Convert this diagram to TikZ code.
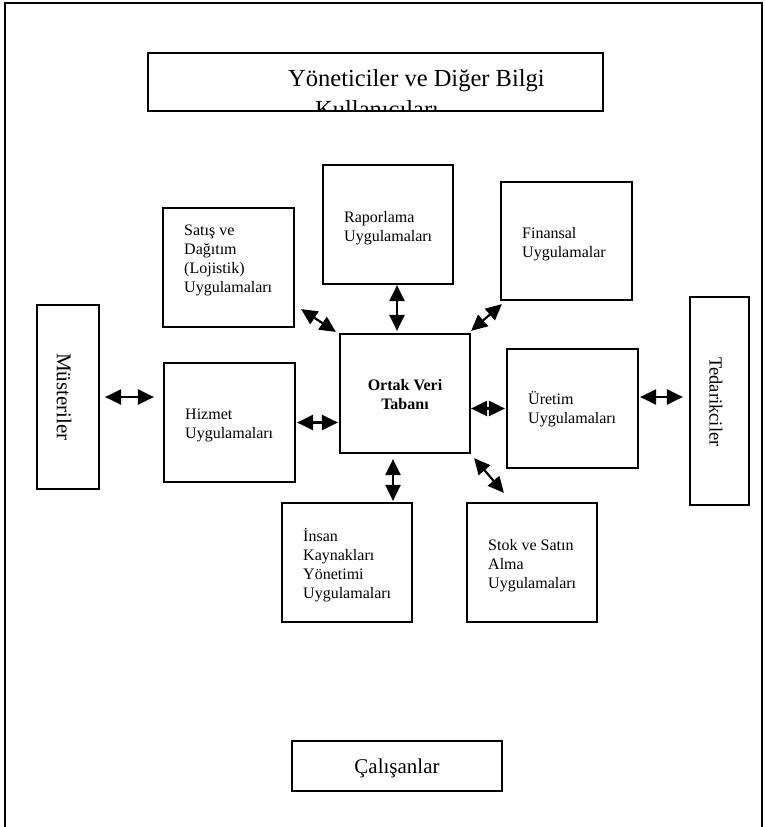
\documentclass[tikz,border=0pt]{standalone}
\usepackage{fontspec}
\setmainfont{Liberation Serif}
\usetikzlibrary{arrows.meta,calc}
\tikzset{
  box/.style={draw, line width=2.2pt, inner sep=0pt, rectangle},
  txt/.style={inner sep=0pt, anchor=base west, font=\fontsize{16}{19}\selectfont},
  bigtxt/.style={inner sep=0pt, font=\fontsize{21}{25}\selectfont},
  dar/.style={line width=2.2pt, {Triangle[width=15pt,length=16pt]}-{Triangle[width=15pt,length=16pt]}},
}
\newcommand\mylines[1]{\parbox[t]{200pt}{\raggedright #1}}
\begin{document}
\begin{tikzpicture}[x=1pt,y=-1pt]
\useasboundingbox (0,0) rectangle (765,827);
% outer frame
\draw[line width=2.2pt] (5,830) -- (5,3) -- (762,3) -- (762,830);

% top box with clipped text
\begin{scope}
  \clip (149,54) rectangle (602,110);
  \node[inner sep=0pt, anchor=base west, font=\fontsize{24.5}{29}\selectfont] (topA) at (288,86) {Yöneticiler ve Diğer Bilgi};
  \node[inner sep=0pt, anchor=base west, font=\fontsize{24.5}{29}\selectfont] (topB) at (315,117) {Kullanıcıları};
\end{scope}
\node[box, minimum width=455pt, minimum height=58pt] (top) at (375.5,82) {};

% boxes
\node[box, minimum width=131pt, minimum height=119pt] (sat)  at (228.5,267.5) {};
\node[box, minimum width=130pt, minimum height=119pt] (rap)  at (388,224.5) {};
\node[box, minimum width=131pt, minimum height=118pt] (fin)  at (566.5,241) {};
\node[box, minimum width=62pt,  minimum height=184pt] (mus)  at (68,397) {};
\node[box, minimum width=131pt, minimum height=119pt] (hiz)  at (229.5,422.5) {};
\node[box, minimum width=130pt, minimum height=119pt] (ort)  at (405,393.5) {};
\node[box, minimum width=131pt, minimum height=119pt] (ure)  at (572.5,408.5) {};
\node[box, minimum width=59pt,  minimum height=208pt] (ted)  at (719.5,401) {};
\node[box, minimum width=130pt, minimum height=119pt] (ins)  at (347,562.5) {};
\node[box, minimum width=130pt, minimum height=119pt] (stok) at (532,562.5) {};
\node[box, minimum width=210pt, minimum height=50pt]  (cal)  at (397,766) {};

% texts
\node[txt] (satT) at (184,235) {\mylines{Satış ve\\Dağıtım\\(Lojistik)\\Uygulamaları}};
\node[txt] (rapT) at (344,222) {\mylines{Raporlama\\Uygulamaları}};
\node[txt] (finT) at (522,238) {\mylines{Finansal\\Uygulamalar}};
\node[txt] (hizT) at (185,419) {\mylines{Hizmet\\Uygulamaları}};
\node[txt, anchor=base] (ortT) at (405,390) {\parbox[t]{130pt}{\centering\bfseries Ortak Veri\\Tabanı}};
\node[txt] (ureT) at (528,404) {\mylines{Üretim\\Uygulamaları}};
\node[txt] (insT) at (303,541) {\mylines{İnsan\\Kaynakları\\Yönetimi\\Uygulamaları}};
\node[txt] (stokT) at (488,550) {\mylines{Stok ve Satın\\Alma\\Uygulamaları}};
\node[bigtxt, rotate=-90] (musT) at (64,397) {Müsteriler};
\node[inner sep=0pt, font=\fontsize{18.5}{22}\selectfont, rotate=-90] (tedT) at (716,402) {Tedarikciler};
\node[bigtxt, anchor=base] (calT) at (397,773) {Çalışanlar};

% connectors
\coordinate (p) at ([yshift=11.5pt]ure.east);
\coordinate (q) at ([xshift=9pt]rap.south);
\coordinate (r) at ([xshift=-12pt]ort.south);
\draw[dar, shorten <=5pt, shorten >=9pt] (mus.east) -- (mus.east -| hiz.west);
\draw[dar, shorten <=1pt, shorten >=1pt] (hiz.east) -- (hiz.east -| ort.west);
\draw[dar, shorten >=1pt] (ure.west -| ort.east) -- (ure.west);
\draw[dar, shorten <=1pt, shorten >=6pt] (p) -- (p -| ted.west);
\draw[dar, shorten >=2pt] (q) -- (q |- ort.north);
\draw[dar, shorten <=5pt, shorten >=1pt] (r) -- (r |- ins.north);
\draw[dar] ([xshift=6pt,yshift=19pt]sat.south east) -- ([xshift=-3pt,yshift=1pt]ort.north west);
\draw[dar] ([xshift=2pt,yshift=-3pt]fin.south west) -- ([yshift=2pt]ort.north east);
\draw[dar] ([xshift=3pt,yshift=-4pt]ort.south east) -- ([xshift=38pt,yshift=9pt]stok.north west);
\end{tikzpicture}
\end{document}
